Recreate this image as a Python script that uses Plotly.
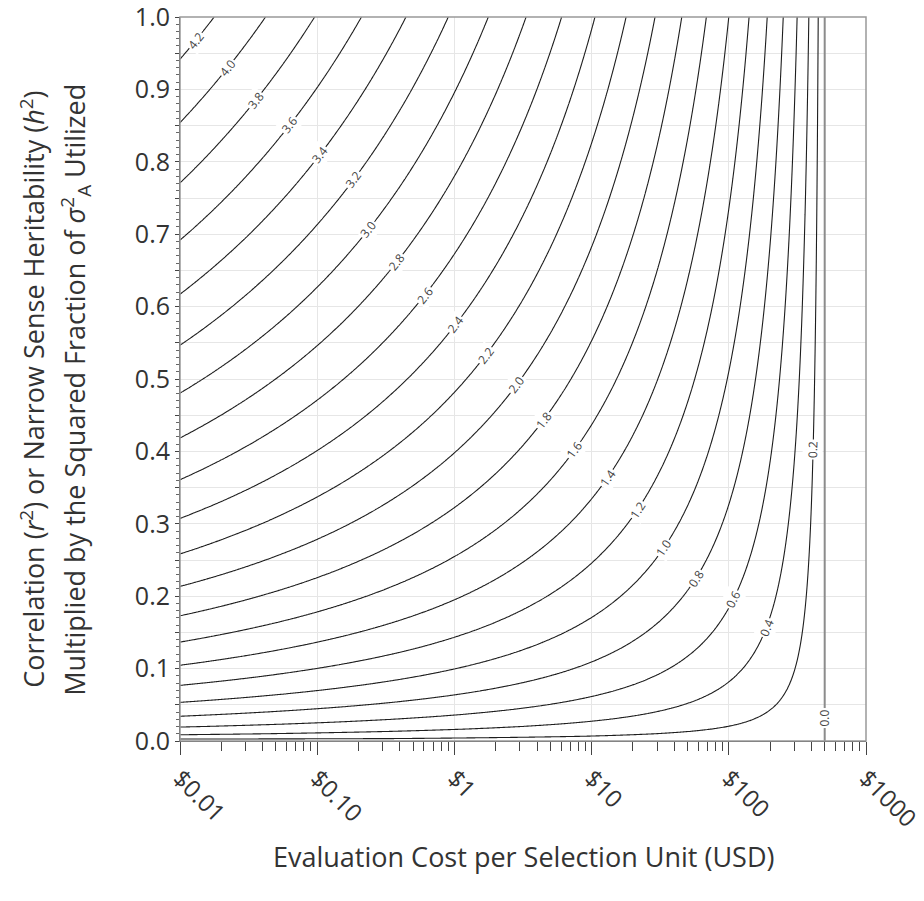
import math
import plotly.graph_objects as go
import numpy as np
from statistics import NormalDist

# ---- data ----
budget_usd = 500.0                     # cost at which the 0.0 contour sits (every unit must be selected)
cost_range_log = [-2, 3]               # $0.01 .. $1000
x_tick_vals = [0.01, 0.1, 1, 10, 100, 1000]
x_tick_text = ["$0.01", "$0.10", "$1", "$10", "$100", "$1000"]
y_tick_vals = [round(0.05 * k, 2) for k in range(21)]
y_tick_text = [f"{v:.1f}" if k % 2 == 0 else "" for k, v in enumerate(y_tick_vals)]
level_start, level_end, level_step = 0.2, 4.2, 0.2
# contour labels: level and the r^2 height at which its label sits
label_levels = [4.2, 4.0, 3.8, 3.6, 3.4, 3.2, 3.0, 2.8, 2.6, 2.4, 2.2,
                2.0, 1.8, 1.6, 1.4, 1.2, 1.0, 0.8, 0.6, 0.4, 0.2]
label_heights = [0.968, 0.93, 0.885, 0.851, 0.81, 0.775, 0.706, 0.662, 0.616, 0.575, 0.533,
                 0.492, 0.443, 0.402, 0.363, 0.319, 0.267, 0.225, 0.195, 0.156, 0.402]
zero_label_height = 0.032

# ---- plot-area geometry (pixels) ----
W, H = 924, 901
ML, MR, MT, MB = 180, 58, 17, 160
PW, PH = W - ML - MR, H - MT - MB

# ---- surface: response = selection intensity(cost/budget) * sqrt(r^2) ----
nd = NormalDist()


def intensity(p):
    if p >= 1:
        return 0.0
    zt = nd.inv_cdf(1 - p)
    return nd.pdf(zt) / p


cost = np.logspace(cost_range_log[0], np.log10(budget_usd), 500)
cost = np.concatenate([cost, np.logspace(np.log10(budget_usd) + 0.002, cost_range_log[1], 40)])
r2 = np.linspace(0, 1, 301)
i_vals = np.array([intensity(c / budget_usd) for c in cost])
Z = np.sqrt(r2)[:, None] * i_vals[None, :]
Z0 = np.tile(np.log10(budget_usd / cost), (len(r2), 1))

fig = go.Figure()
fig.add_trace(go.Contour(
    x=cost, y=r2, z=Z,
    contours=dict(start=level_start, end=level_end, size=level_step, coloring="lines",
                  showlabels=False),
    colorscale=[[0, "#1e1e1e"], [1, "#1e1e1e"]],
    line=dict(width=1.1), showscale=False, hoverinfo="skip",
))
fig.add_trace(go.Contour(
    x=cost, y=r2, z=Z0,
    contours=dict(start=0, end=0, size=1, coloring="lines", showlabels=False),
    colorscale=[[0, "#8c8c8c"], [1, "#8c8c8c"]],
    line=dict(width=2), showscale=False, hoverinfo="skip",
))


# ---- contour labels placed along the lines ----
def to_px(c, y):
    return (ML + PW * (math.log10(c) - cost_range_log[0]) / (cost_range_log[1] - cost_range_log[0]),
            MT + PH * (1 - y))


def from_px(px, py):
    lc = cost_range_log[0] + (px - ML) / PW * (cost_range_log[1] - cost_range_log[0])
    return 10 ** lc, 1 - (py - MT) / PH


def zfun(c, y):
    return intensity(c / budget_usd) * math.sqrt(max(y, 0))


def solve_cost(level, y):
    target = level / math.sqrt(y)
    lo, hi = 1e-12, 1 - 1e-12
    for _ in range(200):
        mid = math.sqrt(lo * hi) if hi < 0.5 else (lo + hi) / 2
        if intensity(mid) > target:
            lo = mid
        else:
            hi = mid
    return 0.5 * (lo + hi) * budget_usd


label_anns = []
for lev, yh in zip(label_levels, label_heights):
    c = solve_cost(lev, yh)
    px, py = to_px(c, yh)
    h = 0.5
    c1, y1 = from_px(px + h, py); c2, y2 = from_px(px - h, py)
    gx = (zfun(c1, y1) - zfun(c2, y2)) / (2 * h)
    c1, y1 = from_px(px, py + h); c2, y2 = from_px(px, py - h)
    gy = (zfun(c1, y1) - zfun(c2, y2)) / (2 * h)
    tx, ty = -gy, gx
    if tx < 0:
        tx, ty = -tx, -ty
    ang = math.degrees(math.atan2(ty, tx))
    label_anns.append(dict(x=math.log10(c), y=yh, xref="x", yref="y", text=f"{lev:.1f}",
                           showarrow=False, textangle=ang, bgcolor="white", borderpad=1,
                           font=dict(size=12, color="#444")))
label_anns.append(dict(x=math.log10(budget_usd), y=zero_label_height, xref="x", yref="y",
                       text="0.0", showarrow=False, textangle=-90, bgcolor="white", borderpad=1,
                       font=dict(size=12, color="#444")))

minor_x = [m * 10.0 ** d for d in range(-2, 3) for m in range(2, 10)]

fig.update_layout(
    width=W, height=H,
    margin=dict(l=ML, r=MR, t=MT, b=MB),
    paper_bgcolor="white", plot_bgcolor="white",
    font=dict(family="Open Sans", color="#333"),
    showlegend=False,
    xaxis=dict(
        type="log", range=cost_range_log, automargin=False,
        tickmode="array", tickvals=x_tick_vals, ticktext=x_tick_text,
        tickangle=45, tickfont=dict(size=24, color="#333"), ticklabeloverflow="allow",
        ticks="outside", ticklen=13, tickcolor="#444", tickwidth=1,
        showgrid=True, gridcolor="#e6e6e6", gridwidth=1,
        showline=True, linecolor="#444", linewidth=1,
        zeroline=False,
        minor=dict(tickmode="array", tickvals=minor_x, ticks="outside", ticklen=9,
                   tickcolor="#444", showgrid=False),
    ),
    yaxis=dict(
        range=[0, 1], automargin=False,
        tickmode="array", tickvals=y_tick_vals, ticktext=y_tick_text,
        tickfont=dict(size=25, color="#333"), ticklabeloverflow="allow",
        ticks="outside", ticklen=4, tickcolor="#444",
        showgrid=True, gridcolor="#e6e6e6", gridwidth=1,
        showline=True, linecolor="#444", linewidth=1,
        zeroline=False,
        minor=dict(dtick=0.01, tick0=0, ticks="outside", ticklen=3, tickcolor="#666",
                   showgrid=False),
    ),
    shapes=[dict(type="rect", xref="paper", yref="paper", x0=0, y0=0, x1=1, y1=1,
                 line=dict(color="#999", width=1.5), layer="above")],
    annotations=label_anns + [
        dict(text="Evaluation Cost per Selection Unit (USD)", xref="paper", yref="paper",
             x=(523 - ML) / PW, y=-(856 - (MT + PH)) / PH, xanchor="center", yanchor="middle",
             showarrow=False, font=dict(size=27, color="#333")),
        dict(text="Correlation (<i>r</i><sup>2</sup>) or Narrow Sense Heritability (<i>h</i><sup>2</sup>)",
             xref="paper", yref="paper", x=-(ML - 33) / PW, y=0.485,
             xanchor="center", yanchor="middle", textangle=-90, showarrow=False,
             font=dict(size=27, color="#333")),
        dict(text="Multiplied by the Squared Fraction of <i>σ</i><sup>2</sup><sub>A</sub> Utilized",
             xref="paper", yref="paper", x=-(ML - 76) / PW, y=0.485,
             xanchor="center", yanchor="middle", textangle=-90, showarrow=False,
             font=dict(size=27, color="#333")),
    ],
)

fig.write_html("out.html", config={"displayModeBar": False},
               post_script="document.body.style.margin='0';")
